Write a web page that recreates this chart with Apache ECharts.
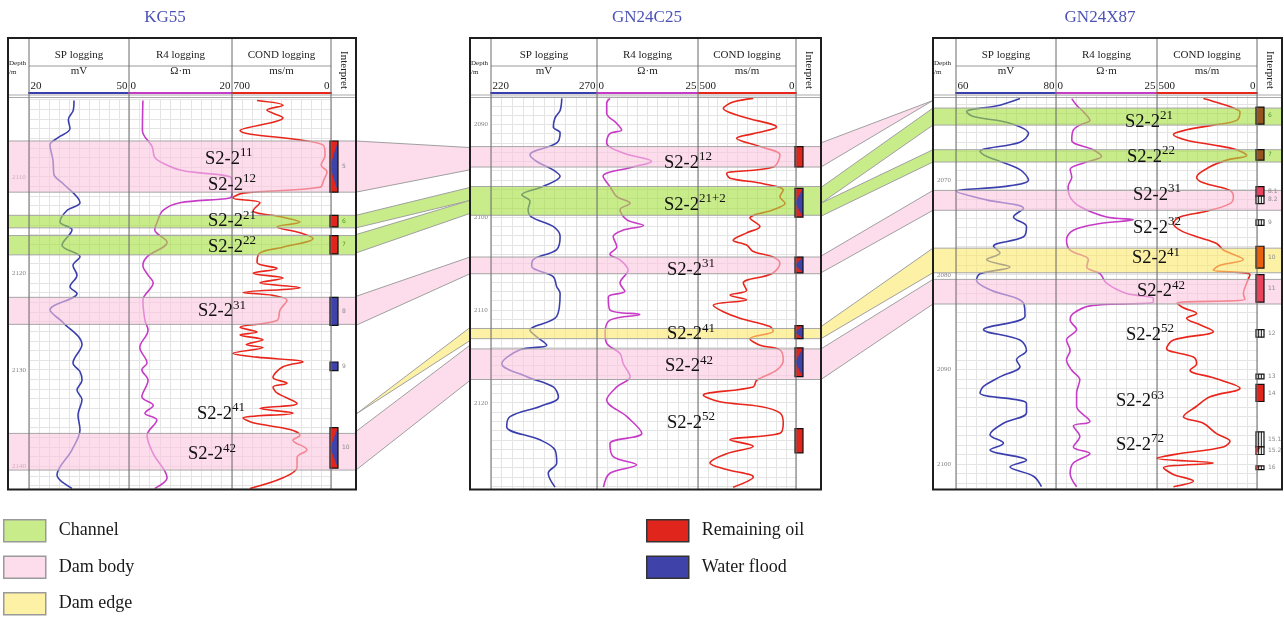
<!DOCTYPE html>
<html>
<head>
<meta charset="utf-8">
<script src="https://cdn.jsdelivr.net/npm/echarts@6/dist/echarts.min.js"></script>
<style>
  html, body { margin: 0; padding: 0; background: #fff; }
  #main { width: 1284px; height: 618px; }
</style>
</head>
<body>
<div id="main"></div>
<script>
// ---- data ----
const wellNames = ['KG55', 'GN24C25', 'GN24X87'];
const trackNames = ['SP logging', 'R4 logging', 'COND logging'];
const trackUnits = ['mV', 'Ω·m', 'ms/m'];

// scale of each track [SP, R4, COND] (COND is drawn reversed)
const kg55Scales = [[20, 50], [0, 20], [0, 700]];
const gn25Scales = [[220, 270], [0, 25], [0, 500]];
const gn87Scales = [[60, 80], [0, 25], [0, 500]];

// depth range shown per well (m)
const kg55Depth = [2102, 2142.3];
const gn25Depth = [2087, 2129.3];
const gn87Depth = [2061, 2102.6];

// curves: [value, depth]
const kg55SP = [[33.5,2102.1],[33.3,2103.1],[31.8,2104.1],[32.3,2105.0],[28.5,2106.0],[26.3,2106.7],[27.2,2108.3],[27.5,2109.8],[30.2,2110.7],[35.3,2112.7],[31.4,2113.5],[29.3,2114.7],[32.9,2115.5],[29.9,2117.1],[35.3,2118.3],[33.2,2119.2],[34.4,2120.2],[32.3,2121.4],[34.4,2122.1],[26.3,2123.8],[30.2,2125.1],[35.9,2127.4],[33.2,2129.3],[35.3,2130.2],[35.9,2131.1],[34.4,2132.1],[35.9,2133.1],[34.7,2134.7],[35.3,2136.2],[32.9,2138.3],[28.4,2140.9],[32.9,2142.3]];
const kg55R4 = [[2.7,2102.1],[2.6,2105.2],[4.5,2106.9],[5.0,2108.0],[6.6,2108.6],[9.9,2109.3],[13.8,2109.6],[19.6,2110.0],[20,2110.6],[20,2111.8],[19.6,2112.2],[9.9,2112.7],[6.6,2113.5],[5.4,2114.8],[5.0,2115.5],[7.4,2116.8],[3.5,2118.3],[2.7,2119.2],[3.7,2120.2],[4.7,2121.0],[2.7,2122.8],[3.1,2124.9],[3.7,2125.9],[2.1,2127.7],[3.5,2129.3],[2.5,2130.0],[3.7,2131.1],[2.5,2132.8],[4.7,2133.7],[3.1,2134.5],[5.4,2135.2],[3.5,2136.8],[4.7,2138.7],[7.4,2141.2],[5.0,2142.3]];
const kg55COND = [[523,2102.1],[339,2102.6],[453,2103.1],[339,2103.9],[643,2105.2],[57,2106.7],[42,2107.8],[70,2108.8],[28,2109.5],[50,2110.3],[78,2111.1],[622,2111.7],[693,2112.2],[502,2112.7],[551,2113.5],[339,2114.2],[219,2114.7],[380,2115.2],[219,2115.8],[127,2116.4],[339,2117.3],[502,2117.9],[523,2118.9],[382,2119.5],[551,2120.0],[339,2120.5],[502,2121.0],[219,2121.5],[622,2122.0],[410,2122.3],[311,2122.8],[360,2123.8],[382,2124.9],[643,2125.6],[523,2126.1],[643,2126.4],[481,2126.9],[600,2127.4],[481,2127.7],[693,2128.3],[523,2128.7],[198,2129.2],[339,2129.7],[410,2130.8],[311,2131.4],[410,2131.8],[382,2132.4],[240,2133.5],[502,2134.0],[269,2134.5],[622,2135.0],[551,2135.5],[290,2136.2],[219,2136.8],[269,2137.3],[170,2138.3],[240,2139.1],[240,2140.1],[339,2141.2],[573,2142.3]];

const gn25SP = [[253.4,2087.2],[252.6,2088.5],[250.2,2089.3],[249.4,2090.3],[252.6,2090.9],[251.0,2092.0],[238.4,2093.3],[241.6,2094.0],[249.3,2094.9],[252.6,2095.6],[244.5,2096.7],[234.5,2097.6],[238.4,2098.3],[237.5,2099.2],[239.2,2100.0],[249.3,2101.0],[252.6,2102.1],[251.0,2103.5],[239.8,2104.6],[239.2,2105.3],[249.3,2106.4],[251.0,2107.5],[252.6,2108.2],[251.0,2110.7],[238.4,2112.2],[241.6,2112.9],[246.3,2113.8],[233.7,2114.3],[225.1,2115.8],[236.9,2117.2],[249.4,2118.3],[251.8,2119.4],[243.1,2120.4],[229.0,2121.5],[227.4,2122.6],[243.1,2124.0],[250.2,2125.1],[251.0,2126.5],[247.0,2127.6],[250.2,2129.1]];
const gn25R4 = [[3.2,2087.2],[2.4,2087.7],[2.4,2088.8],[4.9,2089.9],[6.1,2090.6],[3.2,2091.0],[2.4,2092.0],[6.5,2093.1],[13.5,2094.0],[8.9,2094.6],[1.5,2095.6],[3.2,2096.7],[4.9,2097.8],[8.2,2098.5],[5.7,2099.2],[7.4,2100.3],[11.5,2100.9],[6.5,2101.4],[4.0,2102.1],[4.9,2103.2],[3.2,2104.0],[5.7,2104.6],[7.7,2105.7],[5.7,2107.1],[6.9,2108.0],[2.8,2108.6],[3.2,2110.0],[10.6,2110.5],[3.2,2111.1],[2.0,2112.5],[2.4,2113.6],[5.7,2114.7],[6.5,2115.8],[8.2,2117.2],[4.9,2118.3],[2.4,2119.7],[7.4,2121.5],[11.1,2123.3],[3.2,2124.4],[4.0,2125.8],[9.8,2126.7],[3.2,2127.6],[1.6,2129.1]];
const gn25COND = [[218,2087.2],[321,2087.6],[371,2088.3],[269,2089.2],[99,2090.3],[218,2091.0],[303,2091.5],[184,2092.4],[82,2093.3],[116,2094.6],[354,2095.3],[337,2095.8],[167,2096.4],[65,2097.1],[82,2097.8],[56,2098.5],[116,2099.2],[235,2100.1],[184,2101.0],[252,2101.7],[321,2102.5],[252,2103.0],[218,2103.7],[116,2104.3],[82,2105.0],[124,2106.1],[269,2107.1],[252,2107.9],[337,2108.4],[252,2108.9],[422,2109.5],[371,2110.2],[286,2110.9],[133,2111.8],[116,2112.3],[235,2113.1],[184,2113.8],[82,2114.3],[65,2115.4],[99,2116.5],[201,2117.6],[218,2118.3],[473,2119.2],[388,2119.9],[184,2120.4],[82,2121.1],[65,2122.2],[82,2123.3],[337,2124.0],[218,2124.7],[354,2125.5],[439,2126.5],[354,2127.2],[218,2128.0],[321,2129.1]];

const gn87SP = [[72.8,2061.4],[68.8,2062.1],[62.1,2062.8],[63.5,2063.3],[70.8,2064.0],[74.5,2065.1],[72.8,2066.0],[64.8,2067.0],[66.1,2067.5],[72.8,2068.9],[74.5,2070.0],[69.5,2070.7],[60.1,2071.2],[66.1,2072.1],[73.5,2073.0],[71.5,2073.9],[74.1,2074.9],[73.5,2076.0],[67.5,2077.0],[68.8,2077.7],[66.1,2078.4],[70.8,2079.2],[64.8,2079.9],[64.1,2080.6],[66.8,2081.6],[73.5,2083.0],[73.8,2084.4],[65.5,2085.8],[72.8,2086.9],[74.1,2088.0],[72.1,2089.0],[72.8,2089.7],[68.8,2090.8],[65.5,2091.8],[64.8,2092.5],[74.1,2093.6],[74.1,2094.6],[69.5,2095.7],[66.8,2096.9],[69.5,2097.8],[66.8,2098.5],[74.1,2099.6],[70.8,2100.3],[75.5,2101.3],[77.1,2102.4]];
const gn87R4 = [[3.9,2061.4],[5.1,2062.1],[6.8,2062.8],[8.4,2063.7],[5.9,2064.2],[4.3,2064.7],[3.9,2065.8],[9.2,2066.8],[11.3,2067.5],[6.8,2068.2],[3.5,2068.9],[3.9,2069.7],[3.0,2070.7],[3.5,2071.8],[5.9,2072.8],[12.5,2073.9],[19.1,2074.2],[10.9,2074.6],[4.3,2075.3],[2.6,2076.3],[3.5,2077.4],[8.0,2078.4],[7.6,2079.2],[10.9,2079.9],[12.5,2080.9],[17.5,2082.0],[24.1,2082.5],[24.1,2082.9],[8.4,2083.3],[4.3,2084.1],[3.5,2084.8],[5.1,2085.8],[2.6,2086.9],[3.5,2088.0],[2.6,2089.0],[3.9,2090.1],[5.9,2091.1],[5.1,2092.5],[5.1,2093.9],[8.4,2095.5],[4.3,2096.0],[5.9,2097.1],[4.3,2098.2],[8.4,2098.9],[4.3,2099.9],[3.5,2101.0],[5.1,2102.4]];
const gn87COND = [[268,2061.4],[218,2061.7],[118,2062.4],[85,2062.8],[102,2063.7],[218,2064.2],[352,2064.7],[418,2065.2],[352,2065.8],[218,2066.3],[102,2066.8],[52,2067.4],[152,2067.9],[235,2068.6],[302,2069.7],[268,2070.3],[135,2071.1],[118,2071.8],[135,2072.5],[252,2073.3],[385,2073.9],[418,2074.6],[385,2075.3],[302,2076.0],[202,2076.7],[168,2077.4],[68,2078.4],[185,2079.0],[218,2079.5],[35,2080.0],[52,2080.9],[68,2082.0],[60,2082.6],[400,2083.0],[368,2083.5],[302,2084.1],[352,2084.6],[285,2085.3],[218,2086.0],[418,2086.9],[452,2087.8],[318,2088.7],[302,2089.4],[335,2090.1],[218,2090.9],[85,2092.0],[235,2092.9],[302,2093.9],[368,2095.0],[268,2095.7],[202,2096.8],[135,2097.6],[168,2098.2],[385,2098.9],[500,2099.4],[218,2099.9],[468,2100.4],[418,2101.1],[318,2101.8],[418,2102.4]];

// zones: [top, base, kind]
const kg55Zones = [[2106.3,2111.6,'Dam body'],[2114.0,2115.3,'Channel'],[2116.1,2118.1,'Channel'],[2122.5,2125.3,'Dam body'],[2136.6,2140.4,'Dam body']];
const gn25Zones = [[2092.4,2094.6,'Dam body'],[2096.7,2099.8,'Channel'],[2104.3,2106.1,'Dam body'],[2112.0,2113.1,'Dam edge'],[2114.2,2117.5,'Dam body']];
const gn87Zones = [[2062.4,2064.2,'Channel'],[2066.8,2068.1,'Channel'],[2071.1,2073.2,'Dam body'],[2077.2,2079.8,'Dam edge'],[2080.5,2083.1,'Dam body']];

// interpretation column: [top, base, kind, tag]
const kg55Interp = [[2106.3,2111.6,'mixed','5'],[2114.0,2115.2,'oil','6'],[2116.1,2118.0,'oil','7'],[2122.5,2125.4,'water','8'],[2129.2,2130.1,'water','9'],[2136.0,2140.2,'mixed','10']];
const gn25Interp = [[2092.4,2094.6,'oil',''],[2096.9,2100.0,'mixed',''],[2104.3,2106.0,'mixed',''],[2111.7,2113.1,'mixed',''],[2114.1,2117.2,'mixed',''],[2122.8,2125.4,'oil','']];
const gn87Interp = [[2062.3,2064.1,'brown','6'],[2066.8,2067.9,'brown','7'],[2070.7,2071.7,'pink','8.1'],[2071.7,2072.5,'hatch','8.2'],[2074.2,2074.8,'hatch','9'],[2077.0,2079.3,'orange','10'],[2080.0,2082.9,'pink','11'],[2085.8,2086.6,'hatch','12'],[2090.5,2091.0,'hatch','13'],[2091.6,2093.4,'oil','14'],[2096.6,2098.2,'hatch','15.1'],[2098.2,2099.0,'oilhatch','15.2'],[2100.2,2100.6,'oilhatch','16']];

// layer labels: [superscript, depth]
const kg55Labels = [['11',2108.0],['12',2110.7],['21',2114.5],['22',2117.1],['31',2123.8],['41',2134.4],['42',2138.6]];
const gn25Labels = [['12',2094.0],['21+2',2098.5],['31',2105.5],['41',2112.5],['42',2115.9],['52',2122.0]];
const gn87Labels = [['21',2063.7],['22',2067.4],['31',2071.4],['32',2074.9],['41',2078.1],['42',2081.6],['52',2086.2],['63',2093.2],['72',2097.8]];

// connections between wells: [fromWell, top, base, toWell, top, base, kind]
const links = [
  [0,2106.3,2111.6, 1,2092.5,2094.9,'Dam body'],
  [0,2114.0,2115.3, 1,2096.8,2098.2,'Channel'],
  [0,2116.0,2117.9, 1,2098.2,2099.6,'Channel'],
  [0,2122.4,2125.4, 1,2104.3,2106.1,'Dam body'],
  [0,2134.6,2134.6, 1,2111.9,2113.3,'Dam edge'],
  [0,2136.4,2140.4, 1,2113.8,2117.6,'Dam body'],
  [1,2092.0,2094.6, 2,2061.6,2061.6,'Dam body'],
  [1,2096.8,2098.5, 2,2062.4,2064.2,'Channel'],
  [1,2098.5,2099.9, 2,2066.8,2068.1,'Channel'],
  [1,2104.2,2106.0, 2,2071.1,2073.2,'Dam body'],
  [1,2111.8,2113.1, 2,2077.2,2079.8,'Dam edge'],
  [1,2114.2,2117.5, 2,2080.5,2083.1,'Dam body']
];

const legendZones = ['Channel', 'Dam body', 'Dam edge'];
const legendInterp = ['Remaining oil', 'Water flood'];

// ---- layout and style ----
const FONT = '"Liberation Serif", "DejaVu Serif", serif';
const BOX_TOP = 38, BOX_BOTTOM = 489.5, HEAD1 = 66, SCALE_Y = 93;
const layout = [
  { x0: 8, x1: 356, cols: [29, 129, 232, 331], top: 99.5, bottom: 488.4, titleX: 165, labelX: [205, 208, 208, 208, 198, 197, 188] },
  { x0: 470, x1: 821, cols: [491, 597, 698, 796], top: 96.5, bottom: 489, titleX: 647, labelX: [664, 664, 667, 667, 665, 667] },
  { x0: 933, x1: 1282, cols: [956, 1056, 1157, 1257], top: 94.8, bottom: 488.6, titleX: 1100, labelX: [1125, 1127, 1133, 1133, 1132, 1137, 1126, 1116, 1116] }
];
const legendLeft = [3, 646], legendTop = [519, 555.5, 592];
const curveColors = ['#3b3fae', '#c63cc6', '#e8261c'];
const zoneStyle = {
  'Channel': { fill: 'rgba(163,223,60,0.6)', solid: '#c8ec8a' },
  'Dam body': { fill: 'rgba(252,197,223,0.6)', solid: '#fddcec' },
  'Dam edge': { fill: 'rgba(252,232,107,0.6)', solid: '#fdf1a6' }
};
const RED = '#e0261c', BLUE = '#3f42a8';
const interpFill = { oil: RED, water: BLUE, brown: '#94561e', orange: '#e8620e', pink: '#e8435c' };

const scales = [kg55Scales, gn25Scales, gn87Scales];
const depths = [kg55Depth, gn25Depth, gn87Depth];
const curves = [[kg55SP, kg55R4, kg55COND], [gn25SP, gn25R4, gn25COND], [gn87SP, gn87R4, gn87COND]];
const zones = [kg55Zones, gn25Zones, gn87Zones];
const interps = [kg55Interp, gn25Interp, gn87Interp];
const labels = [kg55Labels, gn25Labels, gn87Labels];

function inChannel(wi, d) {
  return zones[wi].some(z => z[2] === 'Channel' && d >= z[0] && d <= z[1]);
}

const grids = [], xAxes = [], yAxes = [], series = [];

wellNames.forEach((name, wi) => {
  const L = layout[wi];
  const [dMin, dMax] = depths[wi];
  const top = L.top, height = L.bottom - L.top;
  const depthAxis = { type: 'value', inverse: true, min: dMin, max: dMax, interval: 1 };
  const g0 = wi * 5;

  // whole panel: depth labels and zones
  grids.push({ left: L.x0, top: top, width: L.x1 - L.x0, height: height });
  xAxes.push({ gridIndex: g0, type: 'value', min: 0, max: 1, show: false });
  yAxes.push(Object.assign({}, depthAxis, {
    gridIndex: g0,
    axisLine: { show: false }, axisTick: { show: false }, splitLine: { show: false },
    axisLabel: { inside: true, interval: 0, margin: 4, fontSize: 7, color: '#858585', fontFamily: FONT,
      formatter: v => (Math.round(v) % 10 === 0 ? String(Math.round(v)) : '') }
  }));

  Object.keys(zoneStyle).forEach(kind => {
    const rows = zones[wi].filter(z => z[2] === kind);
    series.push({
      type: 'custom', name: kind, xAxisIndex: g0, yAxisIndex: g0, z: 5, silent: true,
      itemStyle: { color: zoneStyle[kind].solid },
      encode: { y: [0, 1] },
      data: rows.map(z => [z[0], z[1]]),
      renderItem: (params, api) => {
        const cs = params.coordSys;
        const y1 = api.coord([0, api.value(0)])[1];
        const y2 = api.coord([0, api.value(1)])[1];
        return { type: 'rect', shape: { x: cs.x, y: y1, width: cs.width, height: y2 - y1 },
          style: { fill: zoneStyle[kind].fill, stroke: '#a6a6a6', lineWidth: 1 } };
      }
    });
  });

  // three log tracks
  for (let k = 0; k < 3; k++) {
    const g = g0 + 1 + k;
    const [mn, mx] = scales[wi][k];
    grids.push({ left: L.cols[k], top: top, width: L.cols[k + 1] - L.cols[k], height: height });
    xAxes.push({
      gridIndex: g, type: 'value', position: 'top', min: mn, max: mx, interval: (mx - mn) / 10,
      inverse: k === 2, offset: top - SCALE_Y,
      axisLine: { show: true, lineStyle: { color: curveColors[k], width: 2 } },
      axisTick: { show: false },
      axisLabel: { show: false },
      splitLine: { show: true, lineStyle: { color: '#e4e4e4', width: 1 } },
      name: trackUnits[k], nameLocation: 'middle', nameGap: 16,
      nameTextStyle: { fontSize: 11, color: '#222', fontFamily: FONT }
    });
    yAxes.push(Object.assign({}, depthAxis, {
      gridIndex: g, axisLine: { show: false }, axisTick: { show: false }, axisLabel: { show: false },
      splitLine: { show: true, lineStyle: { color: '#e4e4e4', width: 1 } }
    }));
    series.push({
      type: 'line', xAxisIndex: g, yAxisIndex: g, data: curves[wi][k], z: 2, silent: true,
      smooth: 0.35, showSymbol: false, lineStyle: { color: curveColors[k], width: 1.6 }
    });
  }

  // interpretation column
  const gi = g0 + 4;
  grids.push({ left: L.cols[3] - 1, top: top, width: 8, height: height });
  xAxes.push({ gridIndex: gi, type: 'value', min: 0, max: 1, show: false });
  yAxes.push(Object.assign({}, depthAxis, { gridIndex: gi, show: false }));
  series.push({
    type: 'custom', name: 'Remaining oil', xAxisIndex: gi, yAxisIndex: gi, z: 6, silent: true,
    itemStyle: { color: RED },
    encode: { y: [0, 1] },
    data: interps[wi].map(b => [b[0], b[1]]),
    renderItem: (params, api) => {
      const row = interps[wi][params.dataIndex];
      const cs = params.coordSys;
      const y1 = api.coord([0, api.value(0)])[1];
      const y2 = api.coord([0, api.value(1)])[1];
      const x = cs.x, w = cs.width, h = y2 - y1;
      const kind = row[2];
      const children = [];
      const border = { stroke: '#111', lineWidth: 1.2 };
      if (kind === 'mixed') {
        children.push({ type: 'rect', shape: { x, y: y1, width: w, height: h }, style: { fill: RED } });
        children.push({ type: 'polygon', shape: { points: [[x + w, y1], [x + w, y2], [x, (y1 + y2) / 2]] }, style: { fill: BLUE } });
        children.push({ type: 'rect', shape: { x, y: y1, width: w, height: h }, style: Object.assign({ fill: 'none' }, border) });
      } else if (kind === 'hatch' || kind === 'oilhatch') {
        children.push({ type: 'rect', shape: { x, y: y1, width: w, height: h }, style: Object.assign({ fill: '#fff' }, border) });
        if (kind === 'oilhatch') {
          children.push({ type: 'polygon', shape: { points: [[x, y1], [x + w * 0.6, y1], [x, y2]] }, style: { fill: RED } });
        }
        [1 / 3, 2 / 3].forEach(f => children.push({ type: 'line', shape: { x1: x + w * f, y1: y1, x2: x + w * f, y2: y2 }, style: { stroke: '#111', lineWidth: 1 } }));
      } else {
        children.push({ type: 'rect', shape: { x, y: y1, width: w, height: h }, style: Object.assign({ fill: interpFill[kind] }, border) });
      }
      if (row[3]) {
        const mid = (row[0] + row[1]) / 2;
        children.push({ type: 'text', x: x + w + 4, y: (y1 + y2) / 2,
          style: { text: row[3], fontSize: 6, fill: inChannel(wi, mid) ? '#4f9a2a' : '#8a8a8a', align: 'left', verticalAlign: 'middle', fontFamily: 'DejaVu Sans' } });
      }
      return { type: 'group', children };
    }
  });
});

// empty series so the legend can show the water-flood swatch
series.push({ type: 'custom', name: 'Water flood', xAxisIndex: 0, yAxisIndex: 0, itemStyle: { color: BLUE }, data: [], renderItem: () => null });

const legendText = { fontSize: 18, fontFamily: FONT, color: '#1a1a1a', padding: [0, 0, 0, 8] };
const legends = [];
[legendZones, legendInterp].forEach((names, col) => {
  names.forEach((nm, r) => legends.push({
    left: legendLeft[col], top: legendTop[r], padding: 0, itemWidth: 42, itemHeight: 22, icon: 'rect',
    selectedMode: false, textStyle: legendText,
    itemStyle: { borderColor: col === 0 ? '#9a9a9a' : '#333', borderWidth: 1.5 },
    data: [nm]
  }));
});

const option = {
  animation: false,
  backgroundColor: '#fff',
  grid: grids,
  xAxis: xAxes,
  yAxis: yAxes,
  legend: legends,
  series: series
};

const chart = echarts.init(document.getElementById('main'), null, { renderer: 'canvas' });
chart.setOption(option);

// ---- frames, headers, scale numbers, layer names and well-to-well connections ----
const py = (wi, d) => chart.convertToPixel({ yAxisIndex: wi * 5 }, d);
const px = (g, v) => chart.convertToPixel({ xAxisIndex: g }, v);
const els = [];
const line = (x1, y1, x2, y2, color, width, z) =>
  els.push({ type: 'line', z: z || 50, silent: true, shape: { x1, y1, x2, y2 }, style: { stroke: color, lineWidth: width } });
const text = (x, y, t, size, extra) =>
  els.push(Object.assign({ type: 'text', z: 60, silent: true, x, y,
    style: Object.assign({ text: t, fontSize: size, fontFamily: FONT, fill: '#222', align: 'center', verticalAlign: 'middle' }, (extra || {}).style || {}) },
    extra && extra.rotation ? { rotation: extra.rotation } : {}));

wellNames.forEach((name, wi) => {
  const L = layout[wi];
  text(L.titleX, 18, name, 17, { style: { fill: '#4c52b5' } });
  // header lines
  line(L.cols[0], HEAD1, L.cols[3], HEAD1, '#9a9a9a', 1);
  line(L.x0, 95, L.x1, 95, '#aaaaaa', 1);
  line(L.x0, 97.5, L.x1, 97.5, '#aaaaaa', 1);
  L.cols.forEach(c => line(c, BOX_TOP, c, BOX_BOTTOM, '#6a6a6a', 1));
  for (let k = 0; k < 3; k++) {
    const g = wi * 5 + 1 + k;
    const [mn, mx] = scales[wi][k];
    text((L.cols[k] + L.cols[k + 1]) / 2, 55, trackNames[k], 11);
    // scale end values, placed through the track axis
    const xMin = px(g, mn), xMax = px(g, mx);
    text(xMin + (xMin < xMax ? 1.5 : -1.5), 86.5, String(mn), 11, { style: { align: xMin < xMax ? 'left' : 'right' } });
    text(xMax + (xMin < xMax ? -1.5 : 1.5), 86.5, String(mx), 11, { style: { align: xMin < xMax ? 'right' : 'left' } });
  }
  text(L.x0 + 1, 63, 'Depth', 7, { style: { align: 'left' } });
  text(L.x0 + 1, 72, '/m', 7, { style: { align: 'left' } });
  text((L.cols[3] + L.x1) / 2, 70, 'Interpret', 11, { rotation: -Math.PI / 2 });
  // outer frame
  els.push({ type: 'rect', z: 70, silent: true, shape: { x: L.x0, y: BOX_TOP, width: L.x1 - L.x0, height: BOX_BOTTOM - BOX_TOP },
    style: { fill: 'none', stroke: '#1e1e1e', lineWidth: 2 } });
  // layer names
  labels[wi].forEach((lb, li) => {
    els.push({ type: 'text', z: 65, silent: true, x: L.labelX[li], y: py(wi, lb[1]),
      style: { text: '{b|S2-2}{s|' + lb[0] + '}', align: 'left', verticalAlign: 'middle',
        rich: {
          b: { fontSize: 18.5, fontFamily: FONT, fill: '#111', lineHeight: 22, verticalAlign: 'bottom' },
          s: { fontSize: 13, fontFamily: FONT, fill: '#111', lineHeight: 12, verticalAlign: 'top' }
        } } });
  });
});

links.forEach(lk => {
  const [wa, a1, a2, wb, b1, b2, kind] = lk;
  const xa = layout[wa].x1, xb = layout[wb].x0;
  const pts = [[xa, py(wa, a1)], [xb, py(wb, b1)], [xb, py(wb, b2)], [xa, py(wa, a2)]];
  els.push({ type: 'polygon', z: 10, silent: true, shape: { points: pts },
    style: { fill: zoneStyle[kind].solid, stroke: '#a0a0a0', lineWidth: 1 } });
});

chart.setOption({ graphic: { elements: els } });
</script>
</body>
</html>
